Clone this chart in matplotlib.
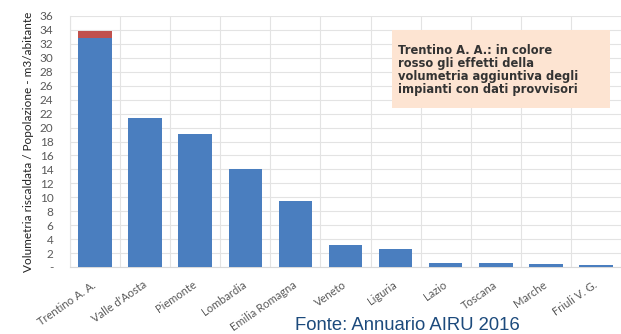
import numpy as np
from matplotlib import pyplot as plt
from matplotlib.patches import FancyBboxPatch

regioni = ['Trentino A. A.', "Valle d'Aosta", 'Piemonte', 'Lombardia', 'Emilia Romagna',
           'Veneto', 'Liguria', 'Lazio', 'Toscana', 'Marche', 'Friuli V. G.']
volumetria = [32.9, 21.4, 19.1, 14.1, 9.4, 3.1, 2.6, 0.6, 0.6, 0.45, 0.25]
aggiuntiva = [1.0, 0, 0, 0, 0, 0, 0, 0, 0, 0, 0]
yticks = list(range(0, 37, 2))
ylabels = ['-'] + [str(v) for v in yticks[1:]]

fig = plt.figure(dpi=100, figsize=(6.21, 3.34))
fig.patch.set_facecolor('white')
ax = fig.add_axes([70 / 621, (334 - 267) / 334, 551 / 621, 251 / 334])

x = np.arange(len(regioni))
ax.bar(x, volumetria, width=0.67, color='#4a7ebf', zorder=3)
ax.bar(x, aggiuntiva, bottom=volumetria, width=0.67, color='#c0504d', zorder=3)

ax.set_xlim(-0.5, 10.42)
ax.set_ylim(0, 36)
ax.set_yticks(yticks)
ax.set_yticklabels(ylabels, family='Lato', fontsize=8.5, color='#595959')
ax.set_xticks(x)
ax.set_xticklabels(regioni, rotation=35, ha='right', va='center', rotation_mode='anchor',
                   family='Lato', fontsize=8, color='#595959')
ax.set_xticks(np.arange(-0.5, 11, 1), minor=True)
ax.tick_params(axis='both', which='both', length=0)
ax.tick_params(axis='y', pad=12)
ax.tick_params(axis='x', pad=12)
ax.grid(axis='y', color='#e3e3e3', linewidth=0.8, zorder=0)
ax.grid(axis='x', which='minor', color='#e3e3e3', linewidth=0.8, zorder=0)
for s in ['top', 'right']:
    ax.spines[s].set_visible(False)
ax.spines['left'].set_color('#e3e3e3')
ax.spines['bottom'].set_color('#d9d9d9')

ax.set_ylabel('Volumetria riscaldata / Popolazione - m3/abitante', family='Lato',
              fontsize=8.5, color='#222222', labelpad=4)

# riquadro nota
box = FancyBboxPatch((392 / 621, 1 - 108 / 334), 218 / 621, 78 / 334,
                     boxstyle='square,pad=0', transform=fig.transFigure,
                     facecolor='#fde4d2', edgecolor='none', zorder=5)
fig.patches.append(box)
fig.text(398 / 621, 1 - 70 / 334,
         'Trentino A. A.: in colore\nrosso gli effetti della\nvolumetria aggiuntiva degli\nimpianti con dati provvisori',
         family='DejaVu Sans', fontweight='bold', fontsize=8.3, color='#333333',
         va='center', ha='left', linespacing=1.0, zorder=6)

fig.text(295 / 621, 1 - 330.5 / 334, 'Fonte: Annuario AIRU 2016',
         family='Liberation Sans', fontsize=13.3,
         color='#1c4a7c', ha='left', va='baseline')

plt.savefig('out.png', dpi=100)
